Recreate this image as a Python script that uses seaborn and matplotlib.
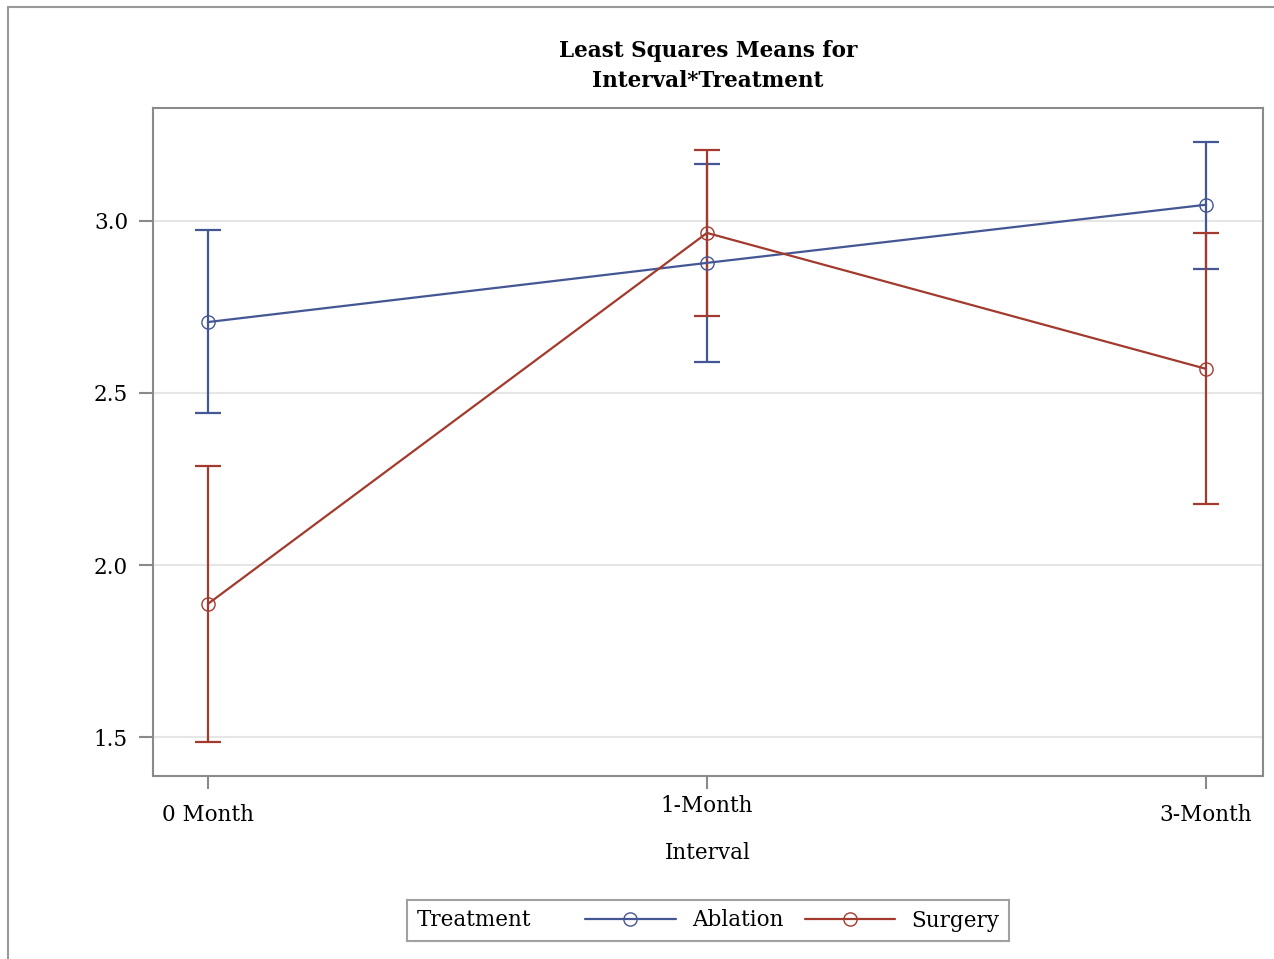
import numpy as np
import pandas as pd
import seaborn as sns
import matplotlib.pyplot as plt
from matplotlib.lines import Line2D
from matplotlib.offsetbox import HPacker

# data
intervals = ["0 Month", "1-Month", "3-Month"]
ablation_mean = [2.706, 2.878, 3.047]
ablation_lower = [2.442, 2.590, 2.860]
ablation_upper = [2.974, 3.166, 3.230]
surgery_mean = [1.887, 2.965, 2.570]
surgery_lower = [1.485, 2.724, 2.177]
surgery_upper = [2.288, 3.206, 2.965]

blue = "#445694"
red = "#A23A2E"
gray = "#8a8a8a"

sns.set_style("white")
plt.rcParams['font.family'] = ['DejaVu Serif']
plt.rcParams['text.color'] = 'black'
plt.rcParams['axes.labelcolor'] = 'black'
plt.rcParams['xtick.labelcolor'] = 'black'
plt.rcParams['ytick.labelcolor'] = 'black'
fs = 15.5

df = pd.DataFrame({
    "pos": list(range(3)) * 2,
    "mean": ablation_mean + surgery_mean,
    "lower": ablation_lower + surgery_lower,
    "upper": ablation_upper + surgery_upper,
    "Treatment": ["Ablation"] * 3 + ["Surgery"] * 3,
})

fig = plt.figure(figsize=(12.74, 9.59), dpi=100)
ax = fig.add_axes([153 / 1274, 1 - 776 / 959, 1110 / 1274, 668 / 959])

colors = {"Ablation": blue, "Surgery": red}
for name, sub in df.groupby("Treatment"):
    c = colors[name]
    yerr = [sub["mean"] - sub["lower"], sub["upper"] - sub["mean"]]
    ax.errorbar(sub["pos"], sub["mean"], yerr=yerr, fmt="none", ecolor=c,
                elinewidth=1.6, capsize=9.4, capthick=1.6, zorder=3)
    sns.lineplot(data=sub, x="pos", y="mean", color=c, lw=1.6, marker="o",
                 markersize=9.5, mfc="none", mec=c, mew=1.0, ax=ax, zorder=4)

ax.set_xlim(-0.11, 2.114)
ax.set_ylim(1.387, 3.328)
ax.set_yticks([1.5, 2.0, 2.5, 3.0])
ax.set_yticklabels(["1.5", "2.0", "2.5", "3.0"])
ax.yaxis.grid(True, color="#e6e6e6", lw=1.5)
ax.set_axisbelow(True)

# staggered x labels: outer ones lower, middle one higher
ax.set_xticks([0, 2])
ax.set_xticklabels([intervals[0], intervals[2]])
ax.set_xticks([1], minor=True)
ax.set_xticklabels([intervals[1]], minor=True)
ax.tick_params(axis="x", which="major", length=9.5, width=1.5, color=gray,
               pad=11, labelsize=fs, direction="out", bottom=True)
ax.tick_params(axis="x", which="minor", length=9.5, width=1.5, color=gray,
               pad=4.5, labelsize=fs, direction="out", bottom=True)
ax.tick_params(axis="y", length=10, width=1.5, color=gray, pad=8,
               labelsize=fs, direction="out", left=True)

for sp in ax.spines.values():
    sp.set_color(gray)
    sp.set_linewidth(1.5)

ax.set_xlabel("Interval", fontsize=fs, labelpad=11)
ax.set_ylabel("")
ax.set_title("Least Squares Means for\nInterval*Treatment", fontsize=fs,
             fontweight="bold", pad=15, linespacing=1.5)

# legend with title on the left
handles = [Line2D([], [], color=colors[n], lw=1.6, marker="o", markersize=9.5,
                  mfc="none", mec=colors[n], mew=1.0) for n in ["Ablation", "Surgery"]]
leg = fig.legend(handles, ["Ablation", "Surgery"], title="Treatment", ncol=2,
                 loc="center", bbox_to_anchor=(708 / 1274, 1 - 920.5 / 959),
                 fontsize=fs, title_fontsize=fs, frameon=True, fancybox=False,
                 handlelength=4.2, handletextpad=0.75, columnspacing=1.0,
                 borderpad=0.45, numpoints=1)
leg._legend_box = HPacker(pad=leg.borderpad * fs, sep=39,
                          align="center",
                          children=[leg._legend_title_box, leg._legend_handle_box])
leg._legend_box.set_figure(fig)
leg._legend_box.axes = leg.axes
leg._set_loc(leg._loc)
leg.get_frame().set_edgecolor(gray)
leg.get_frame().set_linewidth(1.5)

# outer frame (left and top edges visible)
fig.add_artist(Line2D([8 / 1274, 8 / 1274], [0, 1 - 7 / 959], color="#999999", lw=1.5))
fig.add_artist(Line2D([8 / 1274, 1], [1 - 7 / 959, 1 - 7 / 959], color="#999999", lw=1.5))

fig.savefig("out.png", dpi=100)
